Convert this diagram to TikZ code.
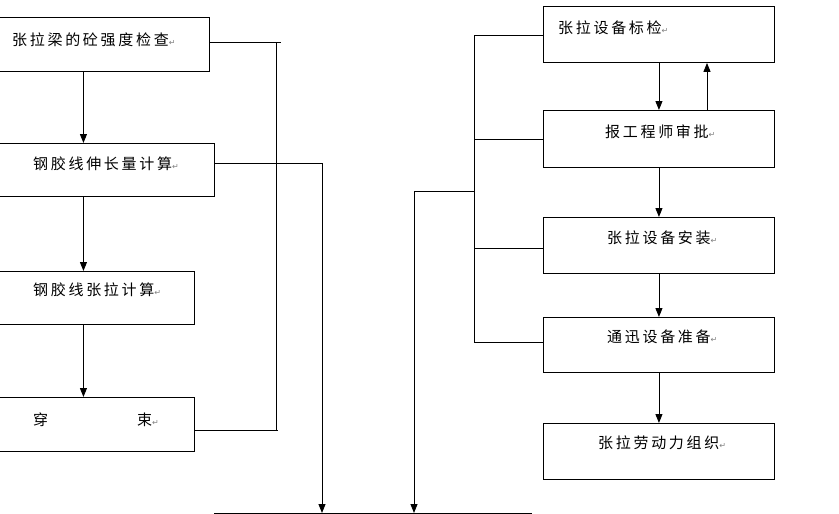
\documentclass[tikz,border=0pt]{standalone}
\usepackage{fontspec}
\newfontfamily\cjk[LetterSpace=18]{Noto Sans CJK SC}
\newfontfamily\dejavu{DejaVu Sans}
\usetikzlibrary{arrows.meta}
\newcommand\pmark{\textcolor{gray}{\dejavu\fontsize{8}{8}\selectfont ↵}}
\begin{document}
\begin{tikzpicture}[x=1pt,y=-1pt,
  box/.style={draw, line width=0.9pt, anchor=north west, inner sep=0pt, minimum width=#1},
  lbl/.style={anchor=west, inner sep=0pt, font=\cjk\fontsize{15}{15}\selectfont},
  arr/.style={line width=0.9pt, -{Triangle[width=7pt,length=9pt]}},
  ln/.style={line width=0.9pt}]
\useasboundingbox (0,0) rectangle (839,514);
% left column
\node[box=252pt, minimum height=54pt] (b1) at (-43,17) {};
\node[box=262pt, minimum height=53pt] (b2) at (-48,143) {};
\node[box=222pt, minimum height=53pt] (b3) at (-28,271) {};
\node[box=222pt, minimum height=54pt] (b4) at (-28,397) {};
% right column
\node[box=231pt, minimum height=56pt] (r1) at (543,6) {};
\node[box=231pt, minimum height=57pt] (r2) at (543,110) {};
\node[box=231pt, minimum height=56pt] (r3) at (543,217) {};
\node[box=231pt, minimum height=55pt] (r4) at (543,317) {};
\node[box=231pt, minimum height=56pt] (r5) at (543,423) {};
% labels
\node[lbl] (l1) at (12,40) {张拉梁的砼强度检查\pmark};
\node[lbl] (l2) at (33,164) {钢胶线伸长量计算\pmark};
\node[lbl] (l3) at (33,290) {钢胶线张拉计算\pmark};
\node[lbl] (l4) at (33,420) {穿\hspace{89pt}束\pmark};
\node[lbl] (m1) at (558,28) {张拉设备标检\pmark};
\node[lbl] (m2) at (605,132) {报工程师审批\pmark};
\node[lbl] (m3) at (607,238) {张拉设备安装\pmark};
\node[lbl] (m4) at (607,337) {通迅设备准备\pmark};
\node[lbl] (m5) at (598,443) {张拉劳动力组织\pmark};
% left arrows
\draw[arr] (b1.south) -- (b2.north);
\draw[arr] (b2.south) -- (b3.north);
\draw[arr] (b3.south) -- (b4.north);
% right arrows
\coordinate (up) at (707,0);
\draw[arr] (r1.south) -- (r2.north);
\draw[arr] (r2.north -| up) -- (r1.south -| up);
\draw[arr] (r2.south) -- (r3.north);
\draw[arr] (r3.south) -- (r4.north);
\draw[arr] (r4.south) -- (r5.north);
% left bracket
\coordinate (t1) at (281,42);
\coordinate (v1) at (276,42);
\coordinate (v2) at (276,431);
\coordinate (t4) at (278,430);
\draw[ln] (b1.east |- t1) -- (t1);
\draw[ln] (v1) -- (v2);
\draw[ln] (b4.east |- t4) -- (t4);
% bottom line
\coordinate (bl) at (214,513);
\coordinate (br) at (532,513);
\draw[ln] (bl) -- (br);
% from box 2 down
\coordinate (c2) at (322,163);
\draw[arr] (b2.east |- c2) -- (c2) -- (c2 |- bl);
% right bracket
\coordinate (rv1) at (474,35);
\coordinate (rv2) at (474,343);
\coordinate (rh2) at (474,139);
\coordinate (rh3) at (474,248);
\coordinate (rh4) at (474,342);
\coordinate (rh5) at (474,191);
\coordinate (c5) at (414,191);
\draw[ln] (rv1) -- (rv2);
\draw[ln] (rv1) -- (r1.west |- rv1);
\draw[ln] (rh2) -- (r2.west |- rh2);
\draw[ln] (rh3) -- (r3.west |- rh3);
\draw[ln] (rh4) -- (r4.west |- rh4);
\draw[arr] (rh5) -- (c5) -- (c5 |- bl);
\end{tikzpicture}
\end{document}
